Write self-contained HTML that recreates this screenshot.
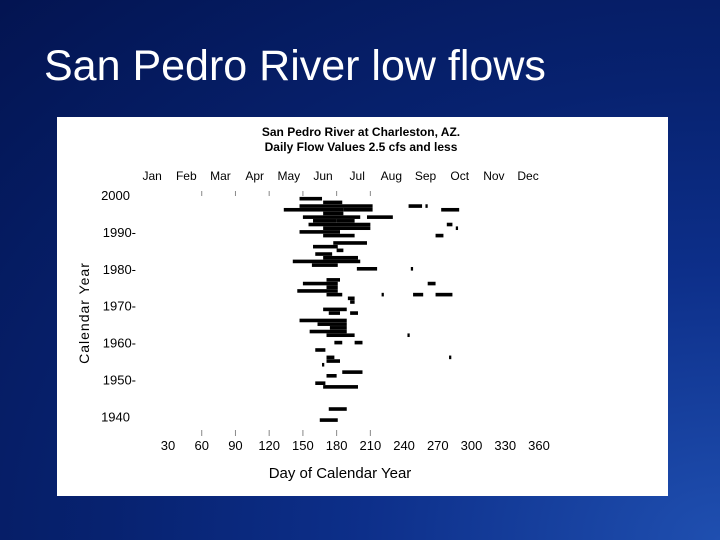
<!DOCTYPE html>
<html><head><meta charset="utf-8">
<style>
html,body{margin:0;padding:0}
body{width:720px;height:540px;overflow:hidden;position:relative;
background:radial-gradient(ellipse at 100% 100%,#1f4fb0 0%,#0d2f8a 35%,#072270 60%,#031451 100%);
font-family:"Liberation Sans",sans-serif}
#title{position:absolute;left:44px;top:42px;color:#fff;font-size:43px;white-space:nowrap}
svg{position:absolute;left:0;top:0}
</style></head><body>
<div id="title">San Pedro River low flows</div>
<svg id="chart" width="720" height="540">
<rect x="57" y="117" width="611" height="379" fill="#fff"/>
<text x="361" y="136" text-anchor="middle" font-size="12" font-weight="bold">San Pedro River at Charleston, AZ.</text>
<text x="361" y="151" text-anchor="middle" font-size="12" font-weight="bold">Daily Flow Values 2.5 cfs and less</text>
<text x="340" y="478" text-anchor="middle" font-size="15">Day of Calendar Year</text>
<text transform="translate(89,313) rotate(-90)" text-anchor="middle" font-size="14" letter-spacing="1">Calendar Year</text>
<g id="marks"></g>
</svg>
<script>
const months=["Jan","Feb","Mar","Apr","May","Jun","Jul","Aug","Sep","Oct","Nov","Dec"];
const xTicks=[30,60,90,120,150,180,210,240,270,300,330,360];
const yTicks=[1940,1950,1960,1970,1980,1990,2000];
const segYears=[1999,1998,1997,1997,1997,1996,1996,1996,1995,1994,1994,1993,1993,1992,1992,1991,1991,1990,1989,1989,1987,1986,1985,1984,1983,1982,1981,1980,1980,1977,1976,1976,1975,1974,1973,1973,1973,1973,1972,1971,1969,1968,1968,1966,1965,1964,1963,1962,1962,1960,1960,1958,1956,1956,1955,1954,1952,1951,1949,1948,1942,1939];
const segStart=[147,168,147,244,259,133,186,273,168,150,207,159,180,155,278,168,286,147,168,268,177,159,180,161,168,141,158,198,246,171,150,261,171,145,171,248,268,220,190,192,168,192,173,147,163,174,156,171,243,178,196,161,171,280,171,167,185,171,161,168,173,165];
const segEnd=[167,185,212,256,261,186,212,289,186,201,230,180,196,210,283,210,288,183,196,275,207,181,186,176,199,201,181,216,248,183,181,268,181,181,185,257,283,222,196,196,189,199,183,189,189,189,189,196,245,185,203,170,178,282,183,169,203,180,170,199,189,181];
const svg=document.getElementById('chart'),g=document.getElementById('marks');
const NS='http://www.w3.org/2000/svg';
const xs=d=>168+(d-30)*1.1242;
const ys=y=>195+(2000-y)*3.69;
function mk(tag,at,txt){const e=document.createElementNS(NS,tag);for(const k in at)e.setAttribute(k,at[k]);if(txt!==undefined)e.textContent=txt;g.appendChild(e);return e;}
months.forEach((m,i)=>{
 const t=mk('text',{x:xs(15+i*30.4)+1,y:180,'text-anchor':'middle','font-size':12},m);
 
 
});
xTicks.forEach(v=>{
 const t=mk('text',{x:xs(v),y:450,'text-anchor':'middle','font-size':13},String(v));
 
 
 if(v>30&&v<=210){
  const a=mk('line',{x1:xs(v),x2:xs(v),y1:191,y2:196,stroke:'#888','stroke-width':1});
  
  
  const b=mk('line',{x1:xs(v),x2:xs(v),y1:430,y2:436,stroke:'#888','stroke-width':1});
  
  
 }
});
yTicks.forEach(v=>{
 const lbl=(v==2000||v==1940)?String(v):v+'-';
 const t=mk('text',{x:(v==2000||v==1940)?130:136,y:ys(v)+5,'text-anchor':'end','font-size':13},lbl);
 
 
});
segYears.forEach((yr,i)=>{
 const x1=xs(segStart[i]),x2=xs(segEnd[i]);
 const r=mk('rect',{x:x1,y:ys(yr)-1.8,width:Math.max(2,x2-x1),height:3.6,fill:'#000'});
 
 
});
</script>
</body></html>
